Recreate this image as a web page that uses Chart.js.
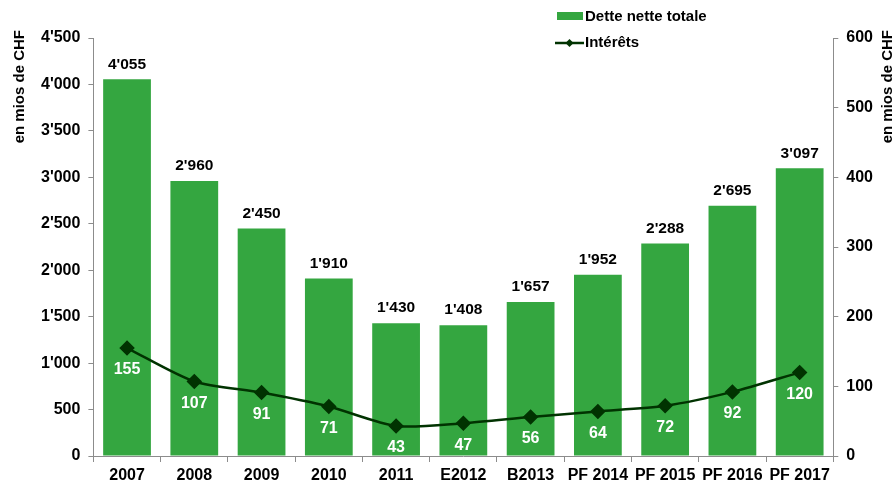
<!DOCTYPE html>
<html><head><meta charset="utf-8">
<script src="https://cdn.jsdelivr.net/npm/chart.js@4"></script>
<style>html,body{margin:0;padding:0;background:#fff}#wrap{width:896px;height:481px}</style>
</head><body><div id="wrap"><canvas id="c" width="896" height="481"></canvas></div>
<script>
const categories = ['2007','2008','2009','2010','2011','E2012','B2013','PF 2014','PF 2015','PF 2016','PF 2017'];
const detteValues = [4055,2960,2450,1910,1430,1408,1657,1952,2288,2695,3097];
const interetsValues = [155,107,91,71,43,47,56,64,72,92,120];
const leftTicks = [0,500,1000,1500,2000,2500,3000,3500,4000,4500];
const rightTicks = [0,100,200,300,400,500,600];

const BAR = '#34a640', LINE = '#013301', AXIS = '#8c8c8c';
const FONT = '"Liberation Sans", Arial, sans-serif';
const fmt = v => String(v).replace(/\B(?=(\d{3})+(?!\d))/g, "'");

const labelsPlugin = {
  id: 'labels',
  afterDatasetsDraw(chart) {
    const ctx = chart.ctx;
    ctx.save();
    ctx.textAlign = 'center';
    ctx.textBaseline = 'middle';
    const m0 = chart.getDatasetMeta(0);
    ctx.font = 'bold 15.5px ' + FONT;
    ctx.fillStyle = '#000';
    m0.data.forEach((el, i) => ctx.fillText(fmt(detteValues[i]), el.x, el.y - 15));
    const m1 = chart.getDatasetMeta(1);
    ctx.font = 'bold 16px ' + FONT;
    ctx.fillStyle = '#fff';
    m1.data.forEach((el, i) => ctx.fillText(String(interetsValues[i]), el.x, el.y + 22));
    ctx.restore();
  },
  afterDraw(chart) {
    const ctx = chart.ctx;
    ctx.save();
    ctx.font = 'bold 15px ' + FONT;
    ctx.textBaseline = 'middle';
    ctx.textAlign = 'left';
    ctx.fillStyle = BAR;
    ctx.fillRect(557, 12, 26, 8);
    ctx.fillStyle = '#000';
    ctx.fillText('Dette nette totale', 585, 17);
    ctx.strokeStyle = LINE; ctx.lineWidth = 2.5;
    ctx.beginPath(); ctx.moveTo(555, 43); ctx.lineTo(584, 43); ctx.stroke();
    ctx.fillStyle = LINE;
    ctx.beginPath(); ctx.moveTo(569.5, 39); ctx.lineTo(573.5, 43); ctx.lineTo(569.5, 47); ctx.lineTo(565.5, 43); ctx.closePath(); ctx.fill();
    ctx.fillStyle = '#000';
    ctx.fillText('Intérêts', 585, 43);
    // axis titles (both read bottom-to-top, anchored at the top)
    ctx.font = 'bold 15px ' + FONT;
    ctx.textAlign = 'right';
    ctx.textBaseline = 'middle';
    [[20, 30], [888, 30]].forEach(([x, y]) => {
      ctx.save();
      ctx.translate(x, y);
      ctx.rotate(-Math.PI / 2);
      ctx.fillText('en mios de CHF', 0, 0);
      ctx.restore();
    });
    ctx.restore();
  }
};

const tickFont = { family: FONT, weight: 'bold', size: 16, lineHeight: 1 };
const xTickFont = { family: FONT, weight: 'bold', size: 16, lineHeight: 0.6 };

new Chart(document.getElementById('c'), {
  type: 'bar',
  data: {
    labels: categories,
    datasets: [
      { type: 'bar', label: 'Dette nette totale', data: detteValues, yAxisID: 'y', backgroundColor: BAR,
        categoryPercentage: 1, barPercentage: 0.71, order: 1 },
      { type: 'line', label: 'Intérêts', data: interetsValues, yAxisID: 'y2', borderColor: LINE, backgroundColor: LINE,
        borderWidth: 2.5, tension: 0.25, pointStyle: 'rectRot', pointRadius: 6, pointHoverRadius: 6, order: 0 }
    ]
  },
  options: {
    responsive: false, animation: false,
    layout: { padding: { top: 38, left: 33, right: 15, bottom: 0 } },
    plugins: { legend: { display: false }, tooltip: { enabled: false } },
    scales: {
      x: {
        afterFit: ax => { ax.height = 25; },
        grid: { display: true, drawOnChartArea: false, color: AXIS, tickLength: 6, offset: true },
        border: { color: AXIS, width: 1 },
        ticks: { color: '#000', font: xTickFont, padding: 9, maxRotation: 0, autoSkip: false }
      },
      y: {
        position: 'left', min: 0, max: 4500,
        afterBuildTicks: ax => { ax.ticks = leftTicks.map(v => ({ value: v })); },
        grid: { display: true, drawOnChartArea: false, color: AXIS, tickLength: 5 },
        border: { color: AXIS, width: 1 },
        ticks: { color: '#000', font: tickFont, padding: 8, callback: v => fmt(v) }
      },
      y2: {
        position: 'right', min: 0, max: 600,
        afterBuildTicks: ax => { ax.ticks = rightTicks.map(v => ({ value: v })); },
        grid: { display: true, drawOnChartArea: false, color: AXIS, tickLength: 5 },
        border: { color: AXIS, width: 1 },
        ticks: { color: '#000', font: tickFont, padding: 8 }
      }
    }
  },
  plugins: [labelsPlugin]
});
</script></body></html>
